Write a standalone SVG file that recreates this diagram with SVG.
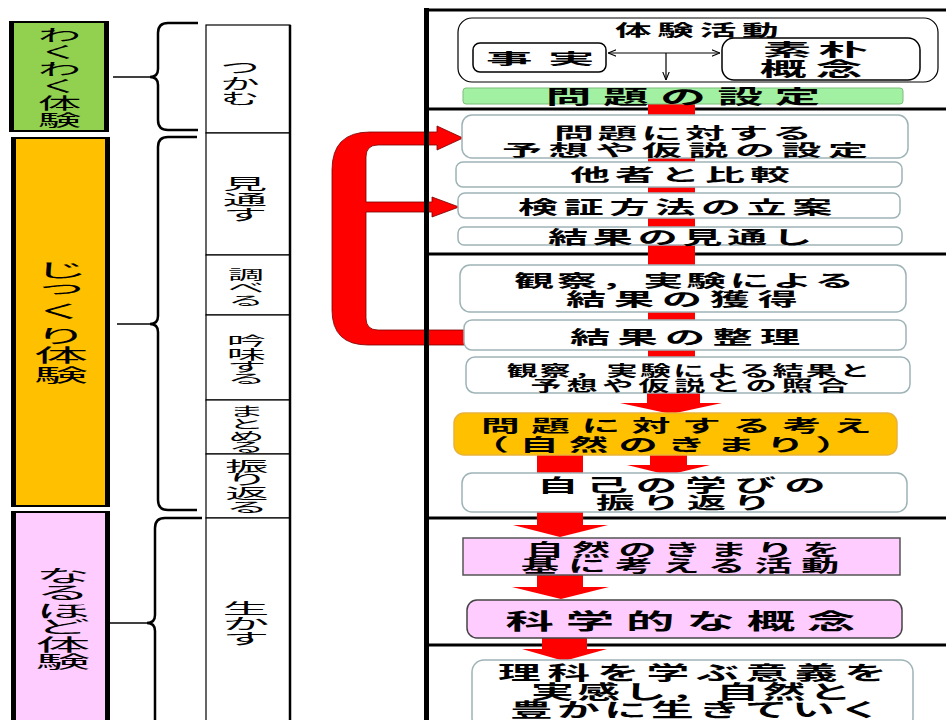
<svg xmlns="http://www.w3.org/2000/svg" width="946" height="720" viewBox="0 0 946 720">
<defs>
<style>
.jp{font-family:"Noto Sans CJK JP","Noto Sans CJK SC",sans-serif;fill:#000}
.b{font-weight:700}
.n{font-weight:400}
.box{fill:#fff;stroke:#9DB3B6;stroke-width:1.5}
.red{fill:#FF0000}
.brace{fill:none;stroke:#000;stroke-width:2.5}
.tick{fill:none;stroke:#000;stroke-width:1.5}
.mid{fill:#fff;stroke:#000;stroke-width:1.2}
.rule{stroke:#000;stroke-width:3}
.thin{fill:none;stroke:#000;stroke-width:1.2}
.side{fill:#000}
</style>
<marker id="ah" viewBox="0 0 10 10" refX="10" refY="5" markerWidth="7" markerHeight="7" orient="auto-start-reverse"><path d="M0,1 L10,5 L0,9" fill="none" stroke="#000" stroke-width="1.3"/></marker>
</defs>
<rect width="946" height="720" fill="#fff"/>

<!-- left stage column -->
<g id="stage-wakuwaku">
<rect x="11" y="22" width="96" height="109" fill="#92D050" stroke="#000" stroke-width="2"/>
<rect class="side" x="9" y="21" width="5" height="111"/><rect class="side" x="104" y="21" width="5" height="111"/>
<text class="jp n" font-size="16" text-anchor="middle" transform="translate(59.5,0) scale(2.7,1)"><tspan x="0" y="41">わ</tspan><tspan x="0" y="58">く</tspan><tspan x="0" y="75">わ</tspan><tspan x="0" y="92">く</tspan><tspan x="0" y="109">体</tspan><tspan x="0" y="126">験</tspan></text>
</g>
<g id="stage-jikkuri">
<rect x="12" y="138" width="97" height="368" fill="#FFC000" stroke="#000" stroke-width="2"/>
<rect class="side" x="11" y="137" width="5" height="370"/><rect class="side" x="105" y="137" width="5" height="370"/>
<text class="jp n" font-size="18" text-anchor="middle" transform="translate(61,0) scale(3,1)"><tspan x="0" y="277">じ</tspan><tspan x="0" y="294">っ</tspan><tspan x="0" y="318">く</tspan><tspan x="0" y="343">り</tspan><tspan x="0" y="362">体</tspan><tspan x="0" y="382">験</tspan></text>
</g>
<g id="stage-naruhodo">
<rect x="12" y="512" width="97" height="215" fill="#FFCCFF" stroke="#000" stroke-width="2"/>
<rect class="side" x="11" y="511" width="5" height="215"/><rect class="side" x="105" y="511" width="5" height="215"/>
<text class="jp n" font-size="16.5" text-anchor="middle" transform="translate(63,0) scale(3.3,1)"><tspan x="0" y="582">な</tspan><tspan x="0" y="599">る</tspan><tspan x="0" y="617">ほ</tspan><tspan x="0" y="633">ど</tspan><tspan x="0" y="651">体</tspan><tspan x="0" y="668">験</tspan></text>
</g>

<!-- middle step column -->
<g id="step-tsukamu"><rect class="mid" x="206" y="25" width="84" height="108"/>
<text class="jp n" font-size="15" text-anchor="middle" transform="translate(240,0) scale(2.6,1)"><tspan x="0" y="73">つ</tspan><tspan x="0" y="89">か</tspan><tspan x="0" y="104">む</tspan></text></g>
<g id="step-mitosu"><rect class="mid" x="206" y="133" width="84" height="122"/>
<text class="jp n" font-size="15" text-anchor="middle" transform="translate(245,0) scale(2.95,1)"><tspan x="0" y="189">見</tspan><tspan x="0" y="205">通</tspan><tspan x="0" y="220">す</tspan></text></g>
<g id="step-shiraberu"><rect class="mid" x="206" y="255" width="84" height="60"/>
<text class="jp n" font-size="13" text-anchor="middle" transform="translate(246,0) scale(2.77,1)"><tspan x="0" y="279">調</tspan><tspan x="0" y="292">べ</tspan><tspan x="0" y="305">る</tspan></text></g>
<g id="step-ginmi"><rect class="mid" x="206" y="315" width="84" height="85"/>
<text class="jp n" font-size="13" text-anchor="middle" transform="translate(246.5,0) scale(3,1)"><tspan x="0" y="345">吟</tspan><tspan x="0" y="359">味</tspan><tspan x="0" y="371">す</tspan><tspan x="0" y="383">る</tspan></text></g>
<g id="step-matomeru"><rect class="mid" x="206" y="400" width="84" height="54"/>
<text class="jp n" font-size="12.5" text-anchor="middle" transform="translate(246.5,0) scale(2.9,1)"><tspan x="0" y="416">ま</tspan><tspan x="0" y="429">と</tspan><tspan x="0" y="441">め</tspan><tspan x="0" y="452">る</tspan></text></g>
<g id="step-furikaeru"><rect class="mid" x="206" y="454" width="84" height="64"/>
<text class="jp n" font-size="14" text-anchor="middle" transform="translate(247,0) scale(3.1,1)"><tspan x="0" y="471">振</tspan><tspan x="0" y="484">り</tspan><tspan x="0" y="498">返</tspan><tspan x="0" y="512">る</tspan></text></g>
<g id="step-ikasu"><rect class="mid" x="206" y="518" width="84" height="210"/>
<text class="jp n" font-size="15" text-anchor="middle" transform="translate(246,0) scale(3.1,1)"><tspan x="0" y="614">生</tspan><tspan x="0" y="629">か</tspan><tspan x="0" y="644">す</tspan></text></g>
<line x1="290" y1="25" x2="290" y2="720" stroke="#000" stroke-width="2.5"/>

<!-- right panel horizontal rules -->
<g id="panel-rules">
<line class="rule" x1="426" y1="10" x2="946" y2="10"/>
<line class="rule" x1="426" y1="109" x2="946" y2="109"/>
<line class="rule" x1="426" y1="254" x2="946" y2="254"/>
<line class="rule" x1="426" y1="518" x2="946" y2="518"/>
<line class="rule" x1="426" y1="645" x2="946" y2="645"/>
</g>

<!-- connectors -->
<g id="connectors">
<path class="brace" d="M198,23 H168 Q158,23 158,33 V69 Q158,77 150,77 Q158,77 158,85 V120 Q158,130 168,130 H198"/>
<path class="tick" d="M113,77 H150"/>
<path class="brace" d="M197,137 H168 Q158,137 158,147 V316 Q158,324 150,324 Q158,324 158,332 V500 Q158,510 168,510 H197"/>
<path class="tick" d="M117,324 H150"/>
<path class="brace" d="M202,518 H165 Q155,518 155,528 V615 Q155,623 147,623 Q155,623 155,631 V740"/>
<path class="tick" d="M110,623 H147"/>
<path fill="#FF0000" stroke="#700" stroke-width="0.8" d="M463,138 L437,126 V132 H370 Q332,132 332,170 V310 Q332,345 368,345 H465 V330 H378 Q366,330 366,318 V212 H432 V217 L459,207 L432,197 V202 H366 V157 Q366,145 378,145 H437 V150 Z"/>
<line class="thin" x1="608" y1="53" x2="720" y2="53" marker-start="url(#ah)" marker-end="url(#ah)"/>
<line class="thin" x1="666" y1="53" x2="666" y2="80" marker-end="url(#ah)"/>
<rect class="red" x="648" y="103" width="47" height="13"/>
<rect class="red" x="648" y="157" width="47" height="6"/>
<rect class="red" x="648" y="186" width="47" height="8"/>
<rect class="red" x="648" y="217" width="47" height="11"/>
<rect class="red" x="648" y="244" width="47" height="22"/>
<rect class="red" x="648" y="311" width="47" height="10"/>
<rect class="red" x="648" y="349" width="47" height="9"/>
<path class="red" d="M647,392 H700 V403 H722 L671,414 L620,403 H647 Z"/>
<rect class="red" x="537" y="454" width="46" height="22"/>
<path class="red" d="M650,454 H687 V465 H710 L668,475 L627,465 H650 Z"/>
<path class="red" d="M537,511 H583 V525 H608 L560,537 L513,525 H537 Z"/>
<path class="red" d="M537,574 H583 V587 H609 L561,599 L512,587 H537 Z"/>
<path class="red" d="M542,637 H587 V649 H607 L564,661 L522,649 H542 Z"/>
</g>
<rect x="424" y="8" width="5" height="712" fill="#000"/>

<!-- right panel nodes -->
<g id="n-taiken">
<rect x="458" y="18" width="480" height="64" rx="14" fill="none" stroke="#000" stroke-width="1.2"/>
<text class="jp b" font-size="16" style="letter-spacing:2.5px" transform="translate(615,36) scale(2.29,1)">体験活動</text>
</g>
<g id="n-jijitsu">
<rect x="473" y="43" width="133" height="29" rx="7" fill="#fff" stroke="#000" stroke-width="1.5"/>
<text class="jp b" font-size="15" style="letter-spacing:5px" transform="translate(486,64) scale(3.1,1)">事実</text>
</g>
<g id="n-soboku">
<rect x="722" y="38" width="198" height="42" rx="12" fill="#fff" stroke="#000" stroke-width="1.5"/>
<text class="jp b" font-size="17" style="letter-spacing:2.4px" transform="translate(762.6,56) scale(2.88,1)">素朴</text>
<text class="jp b" font-size="19" style="letter-spacing:3.8px" transform="translate(759.7,75.7) scale(2.46,1)">概念</text>
</g>
<g id="n-mondai">
<rect x="463" y="88" width="440" height="16" rx="3" fill="#A2F0A2" stroke="#7DBE7D" stroke-width="1"/>
<text class="jp b" font-size="19" style="letter-spacing:4.85px" transform="translate(545.7,103.7) scale(2.4,1)">問題の設定</text>
</g>
<g id="n-yoso">
<rect class="box" x="462" y="115" width="446" height="43" rx="10"/>
<text class="jp b" font-size="16" style="letter-spacing:1.44px" transform="translate(554,139) scale(2.5,1)">問題に対する</text>
<text class="jp b" font-size="16" style="letter-spacing:2.64px" transform="translate(502,156) scale(2.5,1)">予想や仮説の設定</text>
</g>
<g id="n-tasha">
<rect class="box" x="456" y="162" width="446" height="25" rx="7"/>
<text class="jp b" font-size="17" style="letter-spacing:2.15px" transform="translate(570,180.8) scale(2.35,1)">他者と比較</text>
</g>
<g id="n-kensho">
<rect class="box" x="458" y="193" width="442" height="25" rx="7"/>
<text class="jp b" font-size="18" style="letter-spacing:2.6px" transform="translate(518,213.7) scale(2.22,1)">検証方法の立案</text>
</g>
<g id="n-mitoshi">
<rect class="box" x="458" y="227" width="444" height="18" rx="6"/>
<text class="jp b" font-size="18" style="letter-spacing:2.2px" transform="translate(548,243.7) scale(2.22,1)">結果の見通し</text>
</g>
<g id="n-kakutoku">
<rect class="box" x="460" y="265" width="446" height="47" rx="10"/>
<text class="jp b" font-size="17.5" style="letter-spacing:1.4px" transform="translate(514,286.5) scale(2.28,1)">観察，実験による</text>
<text class="jp b" font-size="18" style="letter-spacing:3.6px" transform="translate(566,305.5) scale(2.22,1)">結果の獲得</text>
</g>
<g id="n-seiri">
<rect class="box" x="464" y="320" width="442" height="30" rx="8"/>
<text class="jp b" font-size="18.5" style="letter-spacing:3.4px" transform="translate(570,343.7) scale(2.17,1)">結果の整理</text>
</g>
<g id="n-shogo">
<rect class="box" x="466" y="357" width="444" height="36" rx="9"/>
<text class="jp b" font-size="14.5" style="letter-spacing:1.1px" transform="translate(506.5,375.5) scale(2.14,1)">観察，実験による結果と</text>
<text class="jp b" font-size="14.5" style="letter-spacing:2.3px" transform="translate(530.5,390.8) scale(2.14,1)">予想や仮説との照合</text>
</g>
<g id="n-kangae">
<rect x="454" y="413" width="443" height="42" rx="10" fill="#FFC000" stroke="#E8B23A" stroke-width="1.5"/>
<text class="jp b" font-size="16.5" style="letter-spacing:4.9px" transform="translate(481,431.5) scale(2.35,1)">問題に対する考え</text>
<text class="jp b" font-size="17.5" style="letter-spacing:4.6px" transform="translate(470,450.5) scale(2.24,1)">（自然のきまり）</text>
</g>
<g id="n-furikaeri">
<rect class="box" x="462" y="473" width="445" height="39" rx="10"/>
<text class="jp b" font-size="18" style="letter-spacing:3.5px" transform="translate(537,491.7) scale(2.3,1)">自己の学びの</text>
<text class="jp b" font-size="17" style="letter-spacing:2.8px" transform="translate(596,508.8) scale(2.3,1)">振り返り</text>
</g>
<g id="n-katsudo">
<rect x="463" y="538" width="437" height="37" fill="#FFCCFF" stroke="#555" stroke-width="1.5"/>
<text class="jp b" font-size="16.5" style="letter-spacing:3.6px" transform="translate(526,555.6) scale(2.3,1)">自然のきまりを</text>
<text class="jp b" font-size="16.5" style="letter-spacing:3.9px" transform="translate(521,571.8) scale(2.3,1)">基に考える活動</text>
</g>
<g id="n-gainen">
<rect x="467" y="600" width="435" height="38" rx="10" fill="#FFCCFF" stroke="#444" stroke-width="1.5"/>
<text class="jp b" font-size="22" style="letter-spacing:5.4px" transform="translate(505.6,628.5) scale(2.2,1)">科学的な概念</text>
</g>
<g id="n-igi">
<rect class="box" x="472" y="660" width="441" height="70" rx="12"/>
<text class="jp b" font-size="19" style="letter-spacing:3px" transform="translate(498,680) scale(2.25,1)">理科を学ぶ意義を</text>
<text class="jp b" font-size="19" style="letter-spacing:1.6px" transform="translate(531,698.5) scale(2.25,1)">実感し，自然と</text>
<text class="jp b" font-size="19" style="letter-spacing:1.9px" transform="translate(510,717) scale(2.25,1)">豊かに生きていく</text>
</g>
</svg>
